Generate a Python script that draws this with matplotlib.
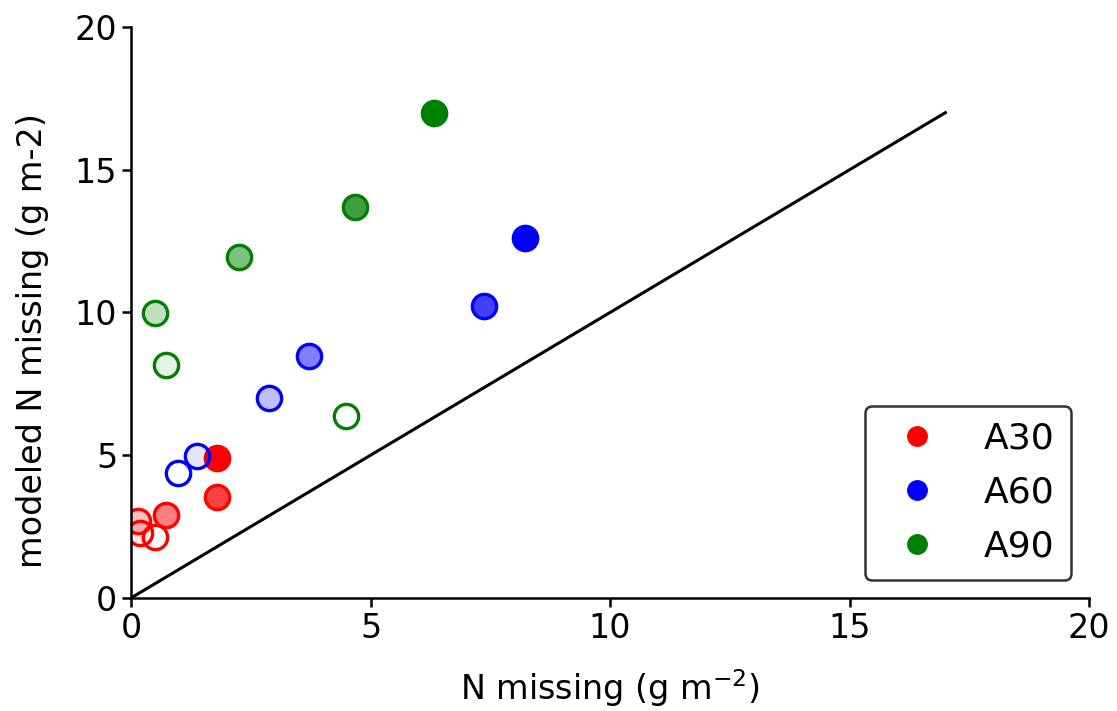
import matplotlib
matplotlib.use("Agg")
import matplotlib.pyplot as plt
from matplotlib.lines import Line2D

# measured vs modeled N missing, per treatment; fill opacity steps through the sampling dates
alphas = [0.0, 0.1, 0.25, 0.5, 0.75, 1.0]

a30_obs = [0.50, 0.18, 0.15, 0.72, 1.80, 1.79]
a30_mod = [2.13, 2.28, 2.68, 2.91, 3.55, 4.89]

a60_obs = [0.99, 1.38, 2.87, 3.71, 7.36, 8.23]
a60_mod = [4.37, 4.97, 7.02, 8.49, 10.24, 12.62]

a90_obs = [4.48, 0.73, 0.50, 2.26, 4.68, 6.33]
a90_mod = [6.37, 8.16, 9.99, 11.95, 13.69, 16.98]

groups = ['A30', 'A60', 'A90']
colors = ['red', 'blue', 'green']

fig, ax = plt.subplots(figsize=(11.17, 7.11), dpi=100)
fig.subplots_adjust(left=0.1173, right=0.975, bottom=0.159, top=0.962)

# 1:1 line
ax.plot([0, 17], [0, 17], color='black', lw=2.2)

for obs, mod, c in zip([a30_obs, a60_obs, a90_obs], [a30_mod, a60_mod, a90_mod], colors):
    for x, y, a in zip(obs, mod, alphas):
        face = matplotlib.colors.to_rgba(c, a)
        ax.plot(x, y, 'o', ms=17.5, mew=2.4, mfc=face, mec=c)

ax.set_xlim(0, 20)
ax.set_ylim(0, 20)
ax.set_xticks([0, 5, 10, 15, 20])
ax.set_yticks([0, 5, 10, 15, 20])
ax.tick_params(labelsize=24, width=1.8, length=6.5)
for s in ['top', 'right']:
    ax.spines[s].set_visible(False)
for s in ['left', 'bottom']:
    ax.spines[s].set_linewidth(1.8)

ax.set_xlabel('N missing (g m$^{-2}$)', fontsize=24, labelpad=16)
ax.set_ylabel('modeled N missing (g m-2)', fontsize=24)
ax.yaxis.set_label_coords(-0.086, 0.45)

handles = [Line2D([], [], marker='o', ls='none', color=c, ms=14) for c in colors]
leg = ax.legend(handles, groups, loc='lower right', fontsize=26, frameon=True,
                handlelength=2.0, handletextpad=0.85, borderpad=0.45,
                labelspacing=0.55, framealpha=1, fancybox=True)
leg.get_frame().set_edgecolor('#333333')
leg.get_frame().set_linewidth(1.8)

fig.savefig('out.png', dpi=100)
